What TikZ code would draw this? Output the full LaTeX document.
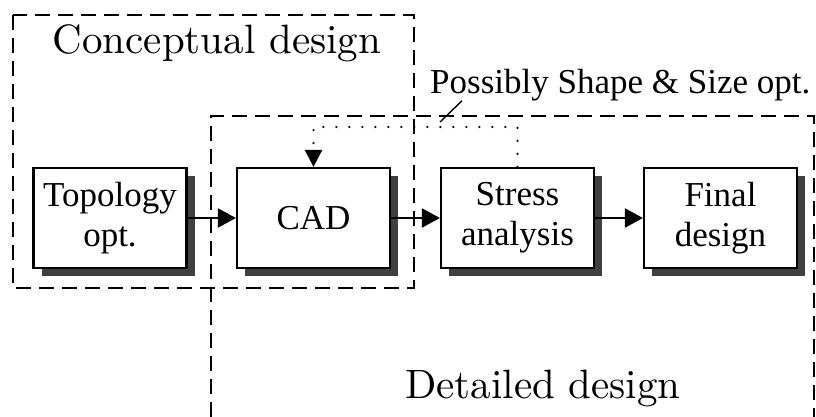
\documentclass[tikz,border=0pt]{standalone}
\usepackage{fontspec}
\newfontfamily\boxfont{Liberation Serif}
\newfontfamily\stagefont{lmroman10-regular.otf}
\usetikzlibrary{arrows.meta,shadows}

\tikzset{
  blk/.style={draw=black, line width=2.2pt, fill=white, minimum width=153pt,
    minimum height=100pt, inner sep=0pt, align=center,
    font=\boxfont\fontsize{35}{40}\selectfont,
    drop shadow={shadow xshift=8pt, shadow yshift=-8pt, fill=black!75, opacity=1}},
  flow/.style={line width=2.2pt, -{Triangle[length=18pt,width=19pt]}},
  fbloop/.style={line width=2.4pt, line cap=round, dash pattern=on 0pt off 13pt,
    -{Triangle[length=17pt,width=17pt]}},
  region/.style={line width=2pt, dash pattern=on 15pt off 8pt},
  stage/.style={inner sep=0pt, font=\stagefont\fontsize{41}{48}\selectfont},
}

\begin{document}
\begin{tikzpicture}[x=1pt, y=-1pt]
  \path[use as bounding box, clip] (0,0) rectangle (816,416);

  % design phases
  \draw[region] (13,15) rectangle (414,288);
  \draw[region] (211,440) |- (814,116) -- (814,440);
  \node[stage, anchor=base] (concept) at (217,53) {Conceptual design};
  \node[stage, anchor=base] (detail) at (543,398) {Detailed design};

  % process steps
  \node[blk] (topo)   at (110,218)   {Topology\\opt.};
  \node[blk] (cad)    at (313.5,218) {CAD};
  \node[blk] (stress) at (517.5,218) {Stress\\analysis};
  \node[blk] (final)  at (720.5,218) {Final\\design};

  \draw[flow] (topo) -- (cad);
  \draw[flow] (cad) -- (stress);
  \draw[flow] (stress) -- (final);

  % optional shape and size optimisation loop
  \coordinate (loop) at (0,127);
  \draw[fbloop] (stress.north) -- (stress.north |- loop) -- (cad.north |- loop) -- (cad.north);

  \node[inner sep=0pt, anchor=base west, font=\boxfont\fontsize{35}{40}\selectfont]
    (opt) at (430,93) {Possibly Shape \& Size opt.};
  \coordinate (optend) at (440,122);
  \draw[line width=1.4pt] ([xshift=32pt]opt.south west) -- (optend);
\end{tikzpicture}
\end{document}
